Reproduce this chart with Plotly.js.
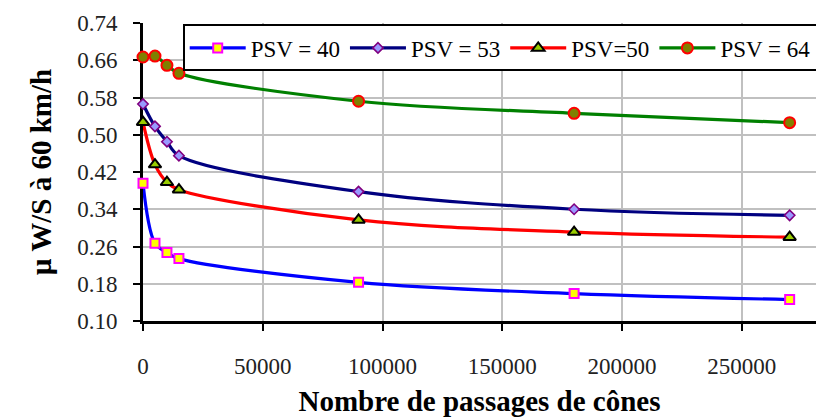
<!DOCTYPE html>
<html>
<head>
<meta charset="utf-8">
<script src="https://cdn.plot.ly/plotly-3.0.1.min.js"></script>
<style>html,body{margin:0;padding:0;background:#fff;}#chart{width:816px;height:417px;}</style>
</head>
<body>
<div id="chart"></div>
<script>
// Data
const passages = [0, 5000, 10000, 15000, 90000, 180000, 270000];
const psv40 = [0.396, 0.267, 0.247, 0.234, 0.183, 0.159, 0.146];
const psv53 = [0.566, 0.518, 0.485, 0.455, 0.378, 0.340, 0.327];
const psv50 = [0.527, 0.436, 0.398, 0.382, 0.317, 0.291, 0.280];
const psv64 = [0.667, 0.669, 0.649, 0.632, 0.572, 0.546, 0.526];
const seriesNames = ['PSV = 40', 'PSV = 53', 'PSV=50', 'PSV = 64'];
const yTicks = [0.10, 0.18, 0.26, 0.34, 0.42, 0.50, 0.58, 0.66, 0.74];
const xTicks = [0, 50000, 100000, 150000, 200000, 250000];

const font = "'Liberation Serif', 'Times New Roman', serif";

function tr(y, name, lineColor, symbol, fill, border, size, bw) {
  return {
    x: passages, y: y, name: name, type: 'scatter', mode: 'lines+markers',
    cliponaxis: false,
    line: {color: lineColor, width: 3.2, shape: 'spline', smoothing: 1},
    marker: {symbol: symbol, color: fill, size: size, line: {color: border, width: bw}}
  };
}

const data = [
  tr(psv40, seriesNames[0], '#0000FF', 'square', '#FFFF00', '#FF00FF', 9, 2),
  tr(psv53, seriesNames[1], '#000080', 'diamond', '#9999FF', '#800080', 8, 1.6),
  tr(psv50, seriesNames[2], '#FF0000', 'triangle-up', '#99CC00', '#000000', 11, 2),
  tr(psv64, seriesNames[3], '#008000', 'circle', '#808000', '#FF0000', 11, 2)
];

const layout = {
  width: 816, height: 417,
  margin: {l: 143, r: 0, t: 23, b: 96, autoexpand: false},
  paper_bgcolor: '#fff', plot_bgcolor: '#fff',
  showlegend: true,
  legend: {
    orientation: 'h', x: 0.059, y: 0.995, xanchor: 'left', yanchor: 'top',
    bgcolor: '#fff', bordercolor: '#000', borderwidth: 2,
    font: {family: font, size: 23, color: '#000'},
    itemwidth: 56, tracegroupgap: 0
  },
  xaxis: {
    range: [0, 281000], tickvals: xTicks, tickformat: 'd',
    showgrid: true, gridcolor: '#C0C0C0', gridwidth: 2,
    showline: true, linecolor: '#000', linewidth: 3,
    ticks: 'outside', ticklen: 7, tickwidth: 2, tickcolor: '#000',
    ticklabelstandoff: 15,
    tickfont: {family: font, size: 23, color: '#222'},
    zeroline: false, layer: 'below traces',
    title: {text: '\u00A0\u00A0<b>Nombre de passages de cônes</b>', font: {family: font, size: 29, color: '#000'}, standoff: 15}
  },
  yaxis: {
    range: [0.10, 0.74], tickvals: yTicks, tickformat: '.2f',
    showgrid: true, gridcolor: '#C0C0C0', gridwidth: 2,
    showline: true, linecolor: '#000', linewidth: 3,
    ticks: 'outside', ticklen: 7, tickwidth: 2, tickcolor: '#000',
    ticklabelstandoff: 11,
    tickfont: {family: font, size: 23, color: '#222'},
    zeroline: false, layer: 'below traces',
    title: {text: '<b>µ W/S à 60 km/h</b>\u00A0\u00A0\u00A0\u00A0\u00A0', font: {family: font, size: 29, color: '#000'}, standoff: 18}
  }
};

Plotly.newPlot('chart', data, layout, {staticPlot: true});
</script>
</body>
</html>
